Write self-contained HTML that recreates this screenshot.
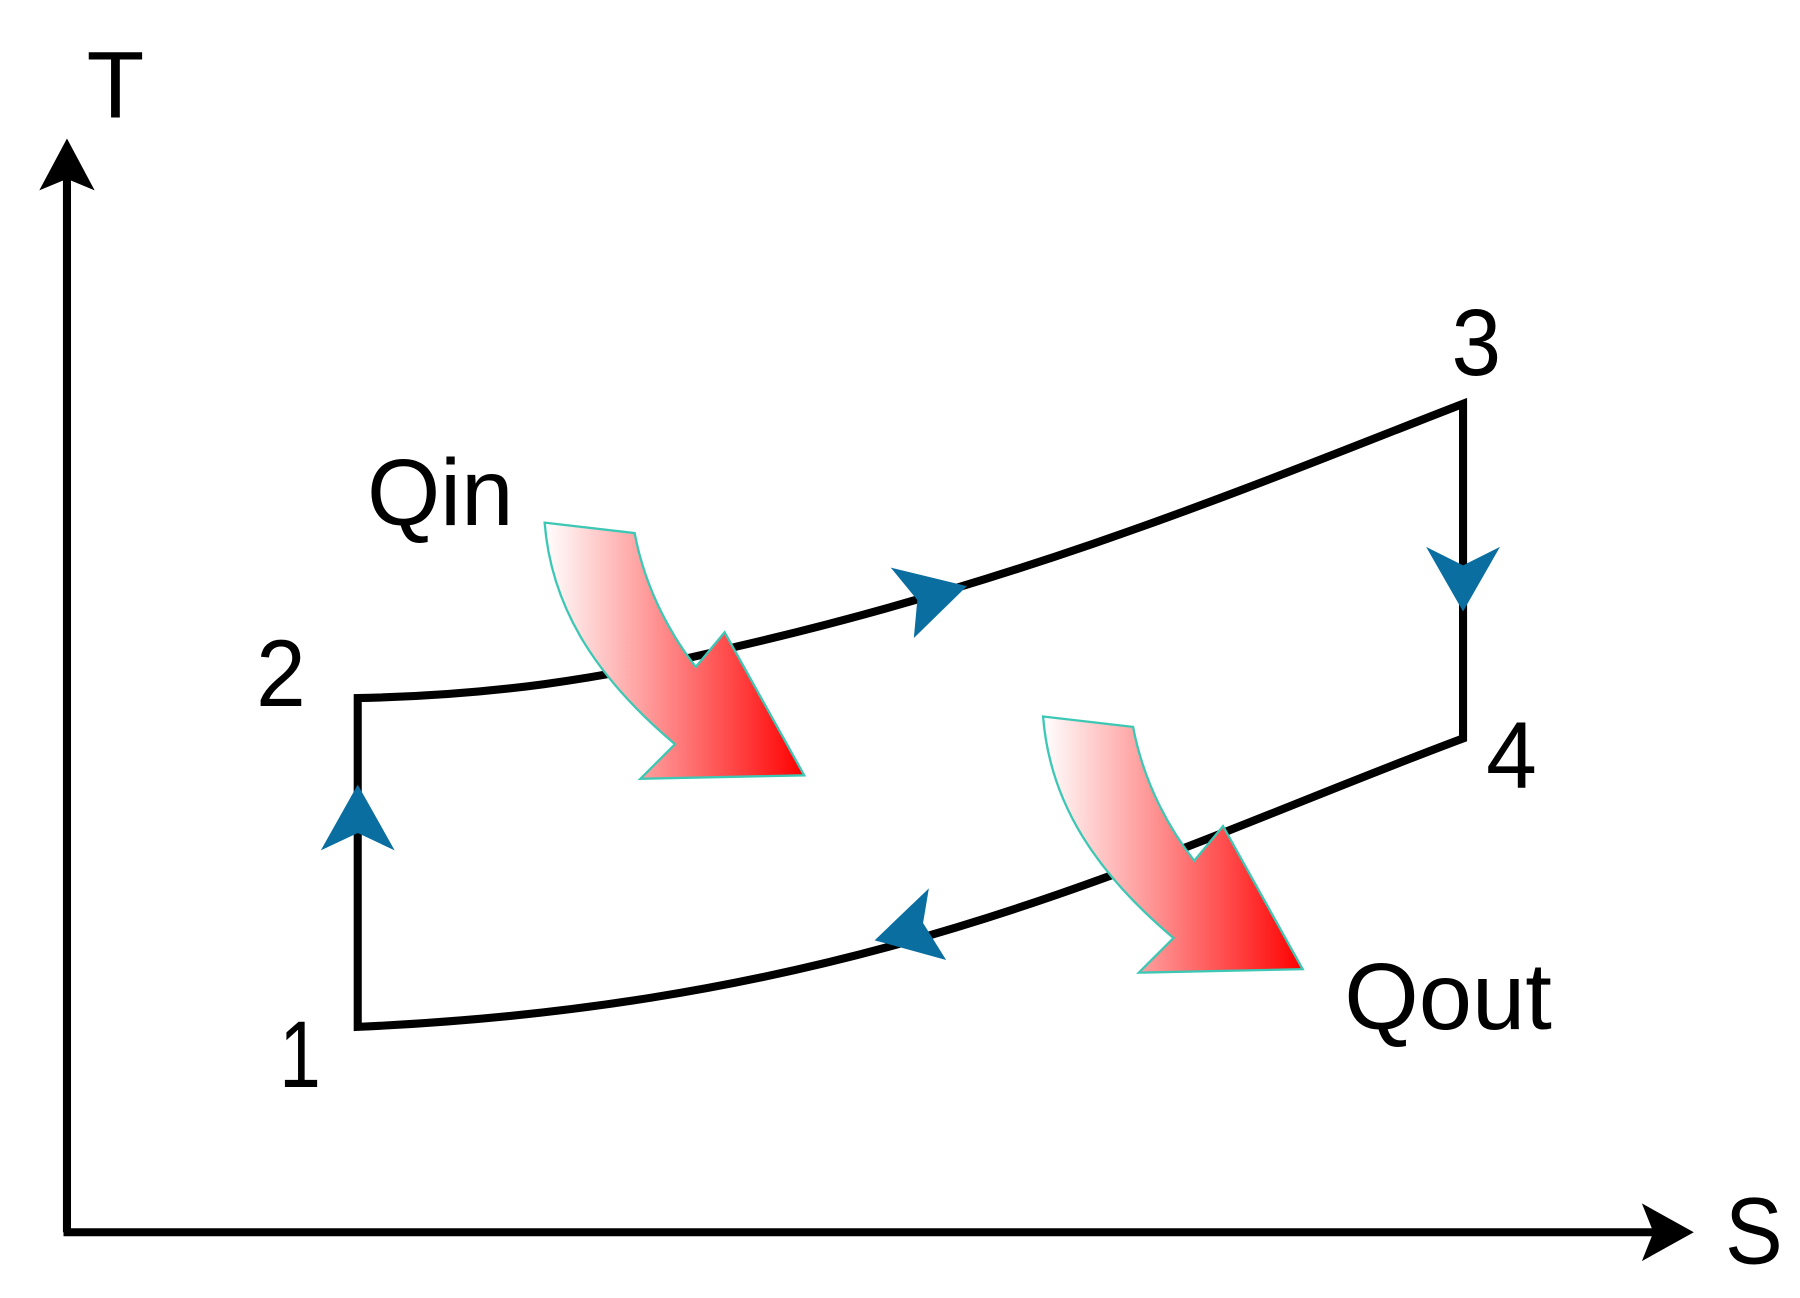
<!DOCTYPE html>
<html><head><style>html,body{margin:0;padding:0;background:#fff}svg{display:block}</style></head>
<body>
<svg width="1800" height="1298" viewBox="0 0 1560 1125" xmlns="http://www.w3.org/2000/svg">
<defs>
<linearGradient id="g" x1="0" y1="0" x2="1" y2="0">
<stop offset="0" stop-color="#fff"/><stop offset="1" stop-color="#ff0000"/>
</linearGradient>
<g id="red">
<path d="M472,453 L550,462 C560,515 585,555 603,578 L628,548 L697,672 L555,675 L585,645 C520,590 478,530 472,453 Z" fill="url(#g)" stroke="#3cc8b4" stroke-width="2"/>
</g>
</defs>
<!-- axes -->
<line x1="58" y1="1068" x2="58" y2="150" stroke="#000" stroke-width="7"/>
<polygon points="58,120 34,165 58,155 82,165" fill="#000"/>
<line x1="55" y1="1068" x2="1440" y2="1068" stroke="#000" stroke-width="7"/>
<polygon points="1468,1068 1423,1043 1433,1068 1423,1093" fill="#000"/>
<g font-family="Liberation Sans, sans-serif" fill="#000" font-size="82">
<text x="75" y="102" textLength="50" lengthAdjust="spacingAndGlyphs">T</text>
<text x="1495" y="1095" textLength="50" lengthAdjust="spacingAndGlyphs">S</text>
<text x="222" y="612" textLength="43" lengthAdjust="spacingAndGlyphs">2</text>
<text x="1258" y="325" textLength="43" lengthAdjust="spacingAndGlyphs">3</text>
<text x="1288" y="683" textLength="44" lengthAdjust="spacingAndGlyphs">4</text>
<text x="242" y="942" textLength="36" lengthAdjust="spacingAndGlyphs">1</text>
<text x="318" y="455" textLength="127" lengthAdjust="spacingAndGlyphs">Qin</text>
<text x="1165" y="892" textLength="180" lengthAdjust="spacingAndGlyphs">Qout</text>
</g>
<!-- cycle -->
<path d="M310,890 L310,605 C420,603 520,590 640,560 C900,500 1100,415 1268,350 L1268,640 C1000,740 760,870 310,890 Z" fill="none" stroke="#000" stroke-width="7" stroke-linejoin="miter"/>
<!-- blue arrows -->
<g fill="#0a6ea0">
<polygon points="838,508 772,492 795,520 792,553"/>
<polygon points="1268,530 1236,474 1268,490 1300,474"/>
<polygon points="310,680 278,737 310,722 342,737"/>
<polygon points="758,815 820,832 800,800 805,770"/>
</g>
<use href="#red"/>
<use href="#red" transform="translate(432,168)"/>
</svg>
</body></html>
